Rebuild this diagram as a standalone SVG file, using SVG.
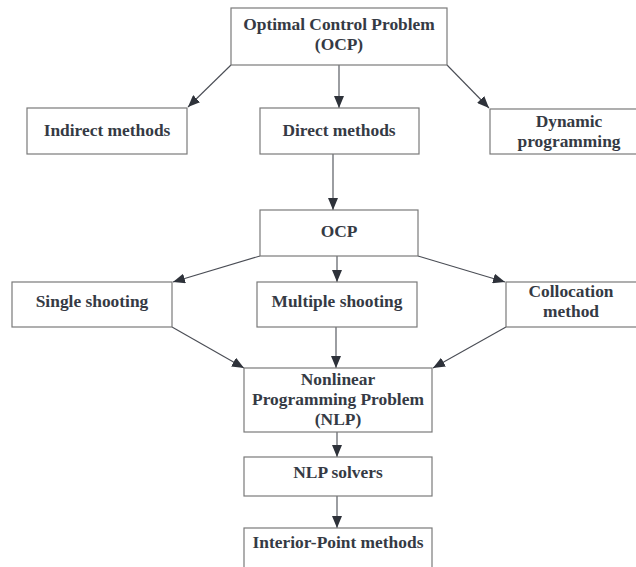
<svg xmlns="http://www.w3.org/2000/svg" width="636" height="567" viewBox="0 0 636 567">
<style>
.box{fill:#fff;stroke:#7a7a7a;stroke-width:1.2}
.t{font-family:"Liberation Serif","DejaVu Serif",serif;font-weight:bold;font-size:17.4px;fill:#353a44;text-anchor:middle}
.c{stroke:#4a4d55;stroke-width:1.1;fill:none;marker-end:url(#ah)}
</style>
<defs>
<marker id="ah" viewBox="0 0 12 10" refX="12" refY="5" markerWidth="12" markerHeight="10" markerUnits="userSpaceOnUse" orient="auto">
<path d="M0,0 L12,5 L0,10 z" fill="#2e323a"/>
</marker>
</defs>
<rect width="636" height="567" fill="#fff"/>
<g id="connectors">
<line class="c" x1="231" y1="65" x2="188" y2="107"/>
<line class="c" x1="339" y1="65" x2="339" y2="108"/>
<line class="c" x1="447" y1="65" x2="489" y2="108"/>
<line class="c" x1="333" y1="154" x2="333" y2="210"/>
<line class="c" x1="260" y1="256" x2="173" y2="282"/>
<line class="c" x1="337" y1="256" x2="337" y2="282"/>
<line class="c" x1="418" y1="256" x2="505" y2="282"/>
<line class="c" x1="172" y1="327" x2="244" y2="368"/>
<line class="c" x1="336" y1="327" x2="336" y2="368"/>
<line class="c" x1="506" y1="327" x2="433" y2="368"/>
<line class="c" x1="337" y1="432" x2="337" y2="457"/>
<line class="c" x1="337" y1="496" x2="337" y2="528"/>
</g>
<g id="ocp-top"><rect class="box" x="231" y="8" width="216" height="57"/><text class="t" x="339" y="30">Optimal Control Problem</text><text class="t" x="339" y="50">(OCP)</text></g>
<g id="indirect"><rect class="box" x="27" y="108" width="160" height="46"/><text class="t" x="107" y="136">Indirect methods</text></g>
<g id="direct"><rect class="box" x="260" y="108" width="159" height="46"/><text class="t" x="339" y="136">Direct methods</text></g>
<g id="dynamic"><rect class="box" x="490" y="109" width="150" height="45"/><text class="t" x="569" y="127">Dynamic</text><text class="t" x="569" y="147">programming</text></g>
<g id="ocp"><rect class="box" x="260" y="210" width="158" height="46"/><text class="t" x="339" y="237">OCP</text></g>
<g id="single"><rect class="box" x="12" y="282" width="160" height="45"/><text class="t" x="92" y="307">Single shooting</text></g>
<g id="multiple"><rect class="box" x="257" y="282" width="160" height="45"/><text class="t" x="337" y="307">Multiple shooting</text></g>
<g id="collocation"><rect class="box" x="506" y="282" width="134" height="45"/><text class="t" x="571" y="297">Collocation</text><text class="t" x="571" y="317">method</text></g>
<g id="nlp"><rect class="box" x="244" y="368" width="188" height="64"/><text class="t" x="338" y="385">Nonlinear</text><text class="t" x="338" y="405">Programming Problem</text><text class="t" x="338" y="425">(NLP)</text></g>
<g id="solvers"><rect class="box" x="244" y="457" width="188" height="39"/><text class="t" x="338" y="478">NLP solvers</text></g>
<g id="interior"><rect class="box" x="244" y="528" width="188" height="50"/><text class="t" x="338" y="548">Interior-Point methods</text></g>
</svg>
